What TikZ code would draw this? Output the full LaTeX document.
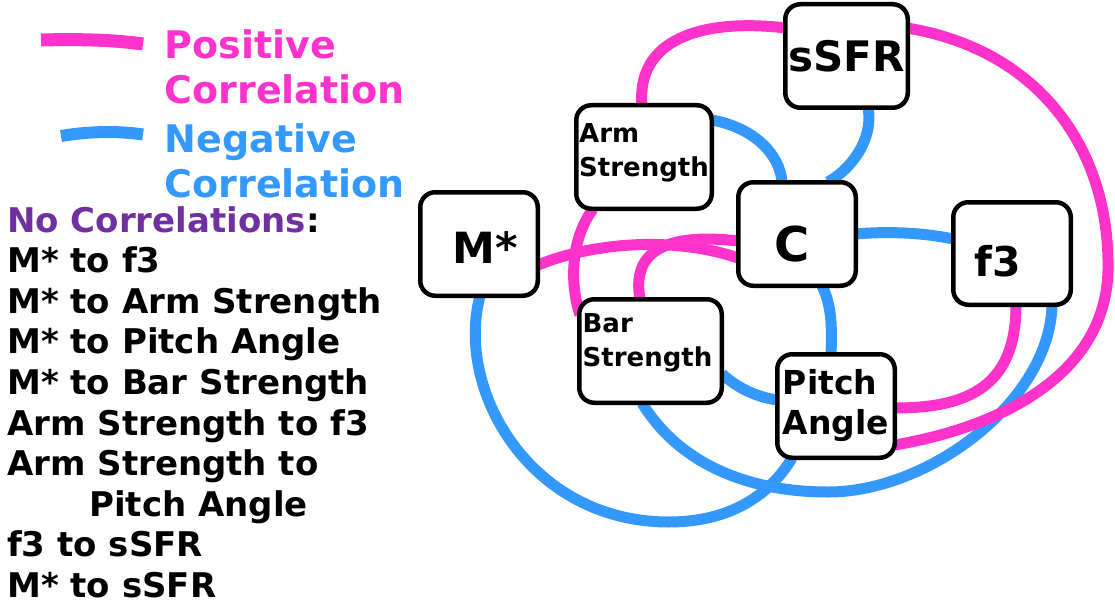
\documentclass[tikz,border=0pt]{standalone}
\usepackage{fontspec}
\setmainfont{DejaVu Sans}
\usetikzlibrary{backgrounds,calc}
\definecolor{pinkc}{RGB}{255,51,204}
\definecolor{bluec}{RGB}{51,153,255}
\definecolor{purplec}{RGB}{112,48,160}
\tikzset{
  box/.style={draw=black, line width=4.5pt, rounded corners=15pt, fill=white, inner sep=0pt, minimum width=117.5pt, minimum height=103.5pt},
  posline/.style={draw=pinkc, line width=11pt},
  negline/.style={draw=bluec, line width=11pt},
  legtext/.style={anchor=north west, inner sep=0pt, align=left}
}
\begin{document}
\begin{tikzpicture}[x=1pt,y=-1pt]
\useasboundingbox (0,0) rectangle (1115,604);

% boxes
\node[box, minimum width=122.5pt, font=\bfseries\fontsize{42}{48}\selectfont] (ssfr) at (846.5,56) {sSFR};
\node[box, minimum width=135.5pt, align=left, font=\bfseries\fontsize{26}{34}\selectfont] (arm) at (644,157) {Arm\\Strength\rule[-13pt]{0pt}{13pt}};
\node[box, font=\bfseries\fontsize{48}{56}\selectfont] (c) at (797,234) {\rule{0pt}{55pt}C\kern9pt\null};
\node[box, font=\bfseries\fontsize{43}{50}\selectfont] (mstar) at (479,244) {\null\kern12pt\rule{0pt}{38pt}M*};
\node[box, minimum height=102.5pt, font=\bfseries\fontsize{41}{48}\selectfont] (f3) at (1012,253.5) {\rule{0pt}{46pt}f3\kern29pt\null};
\node[box, minimum width=142.5pt, align=left, font=\bfseries\fontsize{26}{34}\selectfont] (bar) at (650.5,351) {Bar\\Strength\kern6pt\null\rule[-21pt]{0pt}{21pt}};
\node[box, align=left, font=\bfseries\fontsize{33}{40}\selectfont] (pitch) at (836,406) {Pitch\\Angle};

% legend
\coordinate (pa) at (41,40);
\coordinate (pb) at (143,44);
\draw[posline, line width=13pt] (pa) .. controls (80,39) and (115,40) .. (pb);
\coordinate (na) at (61,136);
\coordinate (nb) at (143,134.5);
\draw[negline, line width=12pt] (na) .. controls (90,131) and (120,131) .. (nb);
\node[legtext, text=pinkc, font=\bfseries\fontsize{38}{45}\selectfont] (postext) at (164.5,29) {Positive\\Correlation};
\node[legtext, text=bluec, font=\bfseries\fontsize{38}{45}\selectfont] (negtext) at (164.5,123) {Negative\\Correlation};
\node[legtext, font=\bfseries\fontsize{34}{40.6}\selectfont] (nocorr) at (7,206) {{\color{purplec}No Correlations}:\\
M* to f3\\
M* to Arm Strength\\
M* to Pitch Angle\\
M* to Bar Strength\\
Arm Strength to f3\\
Arm Strength to\\
\hspace*{82pt}Pitch Angle\\
f3 to sSFR\\
M* to sSFR};

\begin{pgfonlayer}{background}
% negative correlations
\draw[negline] ($(arm)+(68,-37)$) .. controls (755,128) and (780,155) .. ($(c)+(-15,-52)$);
\draw[negline] ($(ssfr)+(21.5,52)$) .. controls (874,140) and (850,170) .. ($(c)+(31,-52)$);
\draw[negline] ($(c)+(59,0)$) .. controls (890,231) and (925,233) .. ($(f3)+(-59,-14.5)$);
\draw[negline] ($(c)+(25,52)$) .. controls (832,305) and (832,330) .. ($(pitch)+(-5,-52)$);
\draw[negline] ($(bar)+(71.5,23)$) .. controls (740,390) and (758,397) .. ($(pitch)+(-59,-6)$);
\draw[negline] ($(mstar)+(1,52)$) .. controls (455,390) and (530,522) .. (669,522) .. controls (730,522) and (770,495) .. ($(pitch)+(-44,52)$);
\draw[negline] ($(bar)+(-8.5,52)$) .. controls (680,465) and (750,492) .. (828,492) .. controls (930,492) and (1050,400) .. ($(f3)+(40,51.5)$);
% positive correlations
\draw[posline] ($(arm)+(-2,-51)$) .. controls (636,40) and (700,18) .. ($(ssfr)+(-60.5,-28)$);
\draw[posline] ($(ssfr)+(60.5,-28)$) .. controls (1040,50) and (1110,150) .. (1108,270) .. controls (1106,370) and (1010,425) .. ($(pitch)+(59,39)$);
\draw[posline] ($(f3)+(4,51.5)$) .. controls (1016,385) and (970,408) .. ($(pitch)+(59,2)$);
\draw[posline] ($(mstar)+(59,21)$) .. controls (600,240) and (680,238) .. ($(c)+(-59,24)$);
\draw[posline] ($(bar)+(-10.5,-52)$) .. controls (632,255) and (660,232) .. ($(c)+(-59,7)$);
\draw[posline] ($(arm)+(-51,52)$) .. controls (570,240) and (570,285) .. ($(bar)+(-70.5,-36)$);
\end{pgfonlayer}
\end{tikzpicture}
\end{document}
